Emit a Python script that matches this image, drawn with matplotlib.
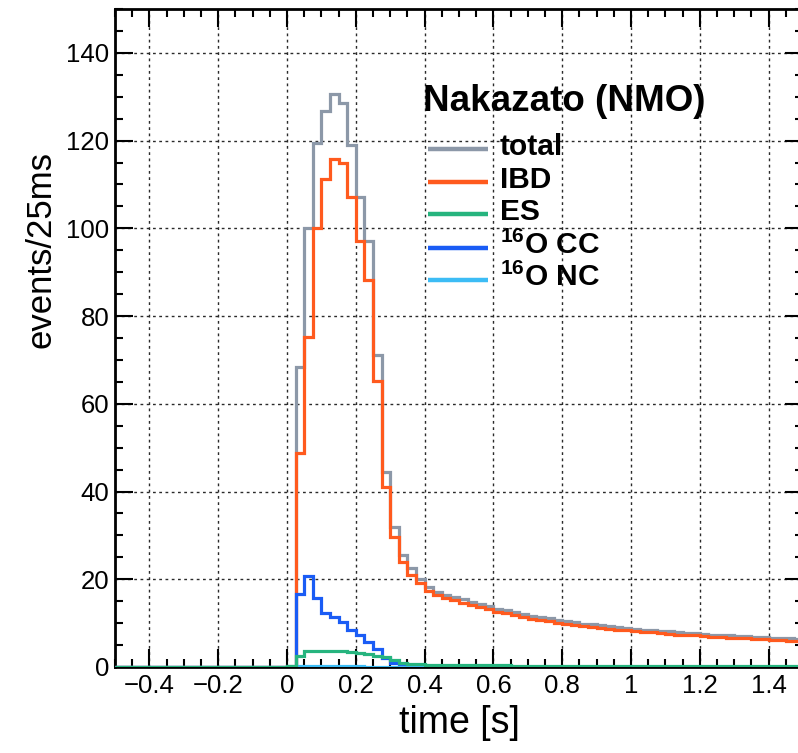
import numpy as np
import matplotlib
matplotlib.use('Agg')
import matplotlib.pyplot as plt
from matplotlib.ticker import MultipleLocator, FuncFormatter

plt.rcParams['font.family'] = ['Liberation Sans', 'DejaVu Sans']
plt.rcParams['mathtext.fontset'] = 'custom'
plt.rcParams['mathtext.rm'] = 'Liberation Sans'
plt.rcParams['mathtext.bf'] = 'Liberation Sans:bold'

# 25 ms bins starting at t = 0 (earlier bins are empty)
bin_width = 0.025
t_min, t_max = -0.5, 1.5

total = [0.3, 68.5, 100.0, 119.4, 126.8, 130.6, 128.5, 119.0, 107.2, 97.0,
         71.1, 44.5, 32.0, 25.5, 22.5, 20.0, 18.3, 17.2, 16.5, 15.9,
         15.4, 14.9, 14.4, 13.9, 13.3, 12.9, 12.5, 12.1, 11.7, 11.4,
         11.1, 10.8, 10.5, 10.2, 9.9, 9.7, 9.5, 9.3, 9.1, 8.9,
         8.7, 8.5, 8.4, 8.2, 8.1, 7.9, 7.8, 7.7, 7.5, 7.4,
         7.3, 7.2, 7.1, 7.0, 6.9, 6.8, 6.7, 6.6, 6.5, 6.4]
ibd = [0.0, 48.8, 75.3, 100.0, 111.2, 115.9, 115.0, 107.1, 97.0, 88.2,
       65.1, 41.1, 29.7, 24.0, 21.0, 19.2, 17.3, 16.4, 15.8, 15.2,
       14.7, 14.2, 13.7, 13.2, 12.6, 12.2, 11.8, 11.4, 11.0, 10.7,
       10.4, 10.1, 9.9, 9.6, 9.3, 9.1, 8.9, 8.7, 8.5, 8.4,
       8.2, 8.0, 7.9, 7.7, 7.6, 7.4, 7.3, 7.2, 7.0, 6.9,
       6.8, 6.7, 6.6, 6.5, 6.4, 6.3, 6.2, 6.1, 6.0, 5.9]
es = [0.2, 2.5, 3.6, 3.7, 3.7, 3.7, 3.6, 3.5, 3.3, 3.0,
      2.6, 2.3, 1.6, 0.8, 0.7, 0.6, 0.55, 0.5, 0.45, 0.45,
      0.4, 0.4, 0.4, 0.35, 0.35, 0.35, 0.3, 0.3, 0.3, 0.3,
      0.3, 0.25, 0.25, 0.25, 0.25, 0.25, 0.2, 0.2, 0.2, 0.2,
      0.2, 0.2, 0.2, 0.2, 0.2, 0.15, 0.15, 0.15, 0.15, 0.15,
      0.15, 0.15, 0.15, 0.15, 0.15, 0.15, 0.15, 0.15, 0.15, 0.15]
o16_cc = [0.0, 16.6, 20.7, 15.8, 12.2, 11.3, 10.3, 8.4, 7.3, 5.8,
          4.0, 2.0, 0.8, 0.3, 0.1] + [0.0] * 45
o16_nc = [0.0, 0.3, 0.3, 0.3, 0.2, 0.2, 0.2, 0.2, 0.2, 0.1,
          0.1, 0.1, 0.1] + [0.05] * 47

labels = ['total', 'IBD', 'ES', r'$^{\mathbf{16}}$O CC', r'$^{\mathbf{16}}$O NC']
colors = ['#8c98a8', '#ff5a1e', '#26b47e', '#1a5cf5', '#3cbcf5']
legend_title = 'Nakazato (NMO)'

n_neg = int(round(-t_min / bin_width))
edges = np.arange(n_neg + len(total) + 1) * bin_width + t_min

def padded(vals):
    return np.concatenate([np.zeros(n_neg), np.asarray(vals, dtype=float)])

W, H = 798, 753
fig = plt.figure(figsize=(W / 100, H / 100), dpi=100)
ax = fig.add_axes([115 / W, 1 - 667 / H, 688 / W, 658 / H])

series = [total, ibd, es, o16_cc, o16_nc]
# drawing order: total, IBD, CC, NC, ES (on top of the frame like ROOT)
for z, idx in enumerate([0, 1, 3, 4, 2]):
    ax.stairs(padded(series[idx]), edges, color=colors[idx], lw=2.3,
              baseline=None, zorder=3 + z * 0.1)

ax.set_xlim(t_min, t_max)
ax.set_ylim(0, 150)
ax.xaxis.set_major_locator(MultipleLocator(0.2))
ax.xaxis.set_minor_locator(MultipleLocator(0.05))
ax.yaxis.set_major_locator(MultipleLocator(20))
ax.yaxis.set_minor_locator(MultipleLocator(5))
ax.xaxis.set_major_formatter(FuncFormatter(lambda v, p: ('%g' % round(v, 3)).replace('-', '\u2212')))
ax.tick_params(which='both', direction='in', top=True, right=True, width=1.5,
               labelsize=18.5, colors='black')
ax.tick_params(which='major', length=13, pad=5)
ax.tick_params(axis='y', which='major', pad=4)
ax.tick_params(which='minor', length=6)
for s in ax.spines.values():
    s.set_linewidth(2)
ax.grid(True, which='major', color='#2a2a2a', lw=1, linestyle=(0, (2, 2.5)))
ax.set_axisbelow(True)

ax.set_xlabel('time [s]', fontsize=27, labelpad=5)
ax.set_ylabel('events/25ms', fontsize=25)
ax.yaxis.set_label_coords(-0.083, 0.635)

# legend drawn by hand (ROOT-like TLegend without frame)
def px(x, y):
    return ((x - 115) / 688, (667 - y) / 658)

ax.text(*px(423, 111), legend_title, transform=ax.transAxes, fontsize=26.5,
        fontweight='bold', va='baseline', ha='left')
entry_y = [149, 182, 214, 248, 280]
for lab, col, y in zip(labels, colors, entry_y):
    x0, y0 = px(428, y)
    x1, _ = px(488, y)
    ax.plot([x0, x1], [y0, y0], transform=ax.transAxes, color=col, lw=3.2,
            solid_capstyle='butt', clip_on=False)
    ax.text(*px(500, y + 6), lab, transform=ax.transAxes, fontsize=21.5,
            fontweight='bold', va='baseline', ha='left')

fig.savefig('out.png', dpi=100)
